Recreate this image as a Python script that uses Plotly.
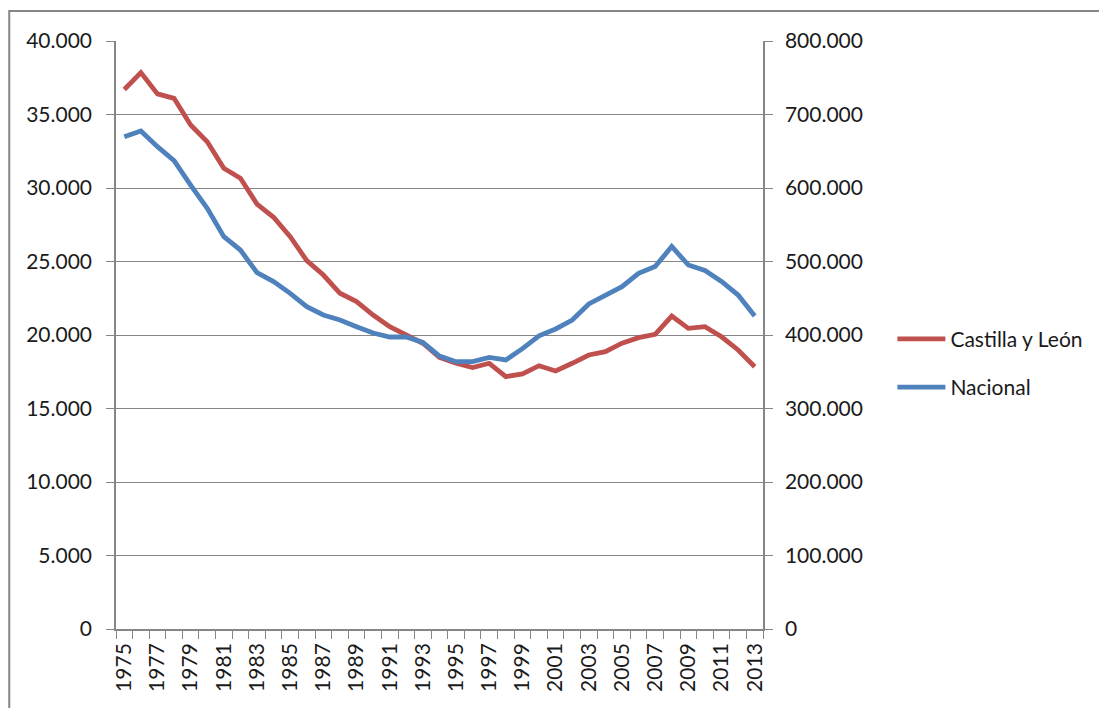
import plotly.graph_objects as go

# ---------------------------------------------------------------------------
# Data
# ---------------------------------------------------------------------------
years = list(range(1975, 2014))

castilla_leon = [
    36700, 37850, 36400, 36100, 34290, 33150, 31340, 30660, 28910, 28010,
    26690, 25060, 24080, 22840, 22270, 21360, 20570, 20050, 19440, 18480,
    18075, 17780, 18075, 17170, 17350, 17910, 17550, 18075, 18640, 18870,
    19440, 19820, 20045, 21290, 20450, 20565, 19880, 18980, 17840,
]

nacional = [
    669800, 677600, 656200, 637100, 604000, 572400, 533800, 515600, 484800, 472600,
    456700, 438500, 427200, 420400, 411300, 402700, 397300, 397300, 390000, 371400,
    363700, 363700, 369600, 366000, 381400, 399000, 408200, 420400, 442200, 453600,
    465800, 484000, 493200, 520400, 495200, 487800, 472800, 454400, 425800,
]

RED = "#C0504D"
BLUE = "#4F81BD"
GRID = "#868686"
TEXT = "#1a1a1a"
FONT = "Lato"

fig = go.Figure()
fig.add_trace(
    go.Scatter(
        x=years, y=castilla_leon, name="Castilla y León", mode="lines",
        line=dict(color=RED, width=4.8), yaxis="y", legendgroup="a",
    )
)
fig.add_trace(
    go.Scatter(
        x=years, y=nacional, name="Nacional", mode="lines",
        line=dict(color=BLUE, width=4.8), yaxis="y2", legendgroup="b",
    )
)

# the page body adds an 8px margin, so the figure is a bit smaller than the window
fig.update_layout(
    width=1099,
    height=700,
    paper_bgcolor="white",
    plot_bgcolor="white",
    separators=",.",
    font=dict(family=FONT, size=21, color=TEXT),
    margin=dict(l=108, r=344, t=33, b=79),
    xaxis=dict(
        range=[1974.5, 2013.5],
        tick0=1975, dtick=2,
        tickangle=-90,
        ticks="",
        ticklabelstandoff=4,
        showgrid=False,
        showline=True, linecolor=GRID, linewidth=1.5,
        minor=dict(ticks="outside", tick0=1974.5, dtick=1, ticklen=8,
                   tickcolor=GRID, tickwidth=1.2, showgrid=False),
        zeroline=False,
        automargin=False,
    ),
    yaxis=dict(
        range=[0, 40000], dtick=5000, tickformat=",d",
        showgrid=True, gridcolor=GRID, gridwidth=1.2,
        showline=True, linecolor=GRID, linewidth=1.5,
        ticks="outside", ticklen=8, tickcolor=GRID,
        ticklabelstandoff=10,
        zeroline=False,
        automargin=False,
    ),
    yaxis2=dict(
        range=[0, 800000], dtick=100000, tickformat=",d",
        overlaying="y", side="right",
        showgrid=False,
        showline=True, linecolor=GRID, linewidth=1.5,
        ticks="outside", ticklen=8, tickcolor=GRID,
        ticklabelstandoff=8,
        zeroline=False,
        automargin=False,
    ),
    legend=dict(
        x=1.2, y=0.452, xanchor="left", yanchor="middle",
        traceorder="grouped", tracegroupgap=18,
        itemwidth=48,
        font=dict(family=FONT, size=21, color=TEXT),
        bgcolor="rgba(0,0,0,0)",
    ),
    shapes=[
        dict(type="rect", xref="paper", yref="paper",
             x0=-0.165, x1=1.8, y0=-0.3, y1=1.051,
             line=dict(color=GRID, width=2), layer="below"),
    ],
)

fig.write_html("out.html")
